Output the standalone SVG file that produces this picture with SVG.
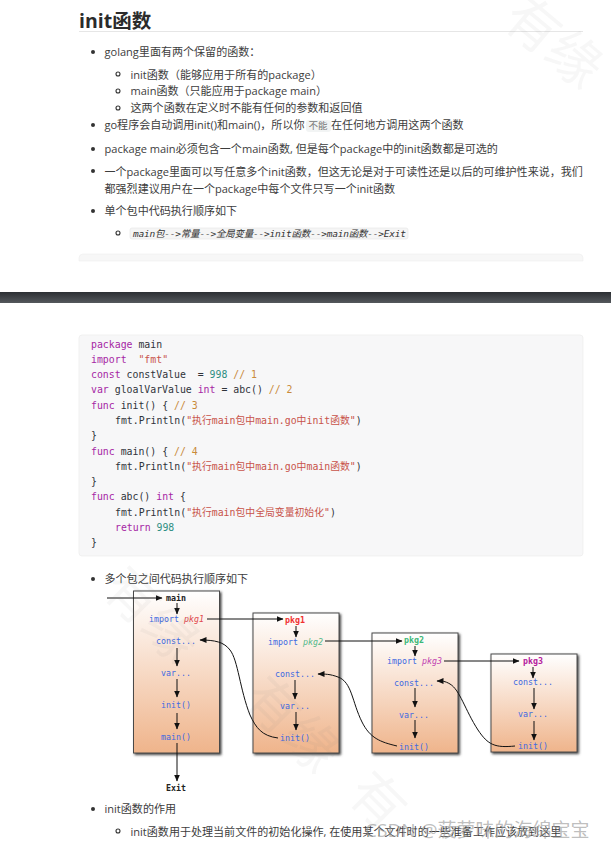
<svg xmlns="http://www.w3.org/2000/svg" width="611" height="849" viewBox="0 0 611 849">
<style>
text{font-family:"Open Sans","Noto Sans CJK SC",sans-serif;font-size:11.05px;fill:#3d3d3d}
.h{font-size:19.5px;font-weight:700;fill:#2b2b2b}
.c text{font-family:"DejaVu Sans Mono","Noto Sans CJK SC",monospace;font-size:9.85px;fill:#2f333a;white-space:pre}
.c .k{fill:#a626a4}.c .s{fill:#c8534a}.c .n{fill:#2f8f83}.c .o{fill:#c98a3a}
text.d{font-family:"DejaVu Sans Mono","Noto Sans CJK SC",monospace;font-size:8.3px;fill:#4169e1}
text.dk{font-family:"DejaVu Sans Mono",monospace;font-size:8.3px;font-weight:700;fill:#222}
.box{fill:url(#g);stroke:#4a4a4a;stroke-width:1;filter:url(#sh)}
.a{fill:none;stroke:#111;stroke-width:1;marker-end:url(#ar)}
.dot{fill:#333}.ring{fill:none;stroke:#333;stroke-width:1.1}
text.wm{font-family:"Noto Sans CJK SC",sans-serif;fill:#777;fill-opacity:.06;font-size:54px}
</style>
<defs>
<linearGradient id="g" x1="0" y1="0" x2="0" y2="1"><stop offset="0" stop-color="#fff"/><stop offset="1" stop-color="#efb48b"/></linearGradient>
<linearGradient id="bar" x1="0" y1="0" x2="0" y2="1"><stop offset="0" stop-color="#2c2f33"/><stop offset="1" stop-color="#54585c"/></linearGradient>
<filter id="sh" x="-10%" y="-10%" width="125%" height="125%"><feDropShadow dx="1.5" dy="1.5" stdDeviation="0.8" flood-color="#444"/></filter>
<marker id="ar" markerWidth="8" markerHeight="6" refX="6.5" refY="3" orient="auto" markerUnits="userSpaceOnUse"><path d="M0 0L7 3L0 6z" fill="#111"/></marker>
</defs>
<rect width="611" height="849" fill="#fff"/>
<g id="top-section">
<text class="h" x="79" y="28">init函数</text>
<rect x="79" y="31" width="504" height="1" fill="#e6e6e6"/>
<circle class="dot" cx="93" cy="52" r="2"/>
<text x="104.500" y="56">golang里面有两个保留的函数：</text>
<circle class="ring" cx="118" cy="74" r="2"/>
<text x="130.500" y="79">init函数（能够应用于所有的package）</text>
<circle class="ring" cx="118" cy="91" r="2"/>
<text x="130.500" y="95">main函数（只能应用于package main）</text>
<circle class="ring" cx="118" cy="108" r="2"/>
<text x="130.500" y="112">这两个函数在定义时不能有任何的参数和返回值</text>
<circle class="dot" cx="93" cy="125" r="2"/>
<text x="104.500" y="129" textLength="200" lengthAdjust="spacing">go程序会自动调用init()和main()，所以你</text>
<rect x="306" y="120" width="25" height="12" rx="3" fill="#f2f4f4"/>
<text x="308.500" y="129" style="font-size:9.5px;fill:#777">不能</text>
<text x="331" y="129">在任何地方调用这两个函数</text>
<circle class="dot" cx="93" cy="149" r="2"/>
<text x="104.500" y="153">package main必须包含一个main函数, 但是每个package中的init函数都是可选的</text>
<circle class="dot" cx="93" cy="171" r="2"/>
<text x="104.500" y="176">一个package里面可以写任意多个init函数，但这无论是对于可读性还是以后的可维护性来说，我们</text>
<text x="104.500" y="193">都强烈建议用户在一个package中每个文件只写一个init函数</text>
<circle class="dot" cx="93" cy="211" r="2"/>
<text x="104.500" y="215">单个包中代码执行顺序如下</text>
<circle class="ring" cx="118" cy="233" r="2"/>
<rect x="130" y="228" width="278" height="11" rx="2" fill="#f5f5f5" stroke="#e8e8e8" stroke-width=".7"/>
<text x="133" y="237" textLength="273" lengthAdjust="spacing" style="font-family:'DejaVu Sans Mono','Noto Sans CJK SC',monospace;font-size:9.5px;font-style:italic;fill:#333">main包-->常量-->全局变量-->init函数-->main函数-->Exit</text>
<path d="M79 261v-3a4 4 0 0 1 4-4h496a4 4 0 0 1 4 4v3z" fill="#f7f7f7" stroke="#efefef" stroke-width=".6"/>
</g>
<rect id="divider" x="0" y="292" width="611" height="11" fill="url(#bar)"/>
<g id="code" class="c">
<rect x="79" y="335" width="504" height="221" rx="3" fill="#f7f7f8" stroke="#ececec" stroke-width=".7"/>
<text x="91" y="348"><tspan class="k">package</tspan> main</text>
<text x="91" y="363"><tspan class="k">import</tspan>  <tspan class="s">"fmt"</tspan></text>
<text x="91" y="378"><tspan class="k">const</tspan> constValue  = <tspan class="n">998</tspan> <tspan class="o">// 1</tspan></text>
<text x="91" y="393"><tspan class="k">var</tspan> gloalVarValue <tspan class="k">int</tspan> = abc() <tspan class="o">// 2</tspan></text>
<text x="91" y="409"><tspan class="k">func</tspan> init() { <tspan class="o">// 3</tspan></text>
<text x="115" y="424">fmt.Println(<tspan class="s">"执行main包中main.go中init函数"</tspan>)</text>
<text x="91" y="439">}</text>
<text x="91" y="455"><tspan class="k">func</tspan> main() { <tspan class="o">// 4</tspan></text>
<text x="115" y="470">fmt.Println(<tspan class="s">"执行main包中main.go中main函数"</tspan>)</text>
<text x="91" y="485">}</text>
<text x="91" y="500"><tspan class="k">func</tspan> abc() <tspan class="k">int</tspan> {</text>
<text x="115" y="516">fmt.Println(<tspan class="s">"执行main包中全局变量初始化"</tspan>)</text>
<text x="115" y="531"><tspan class="k">return</tspan> <tspan class="n">998</tspan></text>
<text x="91" y="546">}</text>
</g>
<circle class="dot" cx="93" cy="579" r="2"/>
<text x="104.500" y="583">多个包之间代码执行顺序如下</text>
<g id="node-main">
<rect class="box" x="133.500" y="591" width="86" height="162"/>
<text class="dk" x="176" y="601" text-anchor="middle">main</text>
<text class="d" x="149" y="622">import <tspan fill="#e0484d" font-style="italic">pkg1</tspan></text>
<text class="d" x="156" y="644">const...</text>
<text class="d" x="161" y="676">var...</text>
<text class="d" x="161" y="708">init()</text>
<text class="d" x="161" y="740">main()</text>
</g>
<g id="node-pkg1">
<rect class="box" x="253" y="613" width="86" height="140"/>
<text x="295" y="623" text-anchor="middle" class="dk" style="fill:#f03030">pkg1</text>
<text class="d" x="268" y="645">import <tspan fill="#55b98a" font-style="italic">pkg2</tspan></text>
<text class="d" x="275" y="677">const...</text>
<text class="d" x="280" y="709">var...</text>
<text class="d" x="280" y="741">init()</text>
</g>
<g id="node-pkg2">
<rect class="box" x="372" y="633" width="86" height="120"/>
<text x="414" y="643" text-anchor="middle" class="dk" style="fill:#3cb878">pkg2</text>
<text class="d" x="387" y="664">import <tspan fill="#c040b0" font-style="italic">pkg3</tspan></text>
<text class="d" x="394" y="686">const...</text>
<text class="d" x="399" y="718">var...</text>
<text class="d" x="399" y="750">init()</text>
</g>
<g id="node-pkg3">
<rect class="box" x="491" y="654" width="86" height="98"/>
<text x="533" y="664" text-anchor="middle" class="dk" style="fill:#b5199c">pkg3</text>
<text class="d" x="513" y="685">const...</text>
<text class="d" x="518" y="717">var...</text>
<text class="d" x="518" y="749">init()</text>
</g>
<text id="node-exit" class="dk" x="176" y="791" text-anchor="middle">Exit</text>
<g id="connectors">
<path class="a" d="M107 598H162"/>
<path class="a" d="M177 603V614"/>
<path class="a" d="M207 619H283"/>
<path class="a" d="M177 648V666"/>
<path class="a" d="M177 679V697"/>
<path class="a" d="M177 713V729"/>
<path class="a" d="M177 743V781"/>
<path class="a" d="M296 626V637"/>
<path class="a" d="M325 641H402"/>
<path class="a" d="M295 680V699"/>
<path class="a" d="M296 712V730"/>
<path class="a" d="M415 646V656"/>
<path class="a" d="M444 661H519"/>
<path class="a" d="M415 688V707"/>
<path class="a" d="M415 720V738"/>
<path class="a" d="M533 667V678"/>
<path class="a" d="M534 688V709"/>
<path class="a" d="M534 721V740"/>
<path class="a" d="M278 738C262 736 256 728 250 715C240 690 238 660 230 650C224 642 215 640 200 640"/>
<path class="a" d="M397 746C380 742 370 738 362 722C352 702 352 682 338 677C330 674 325 674 318 674"/>
<path class="a" d="M515 746C495 748 488 745 478 730C465 710 460 690 450 684C445 681 442 681 437 681"/>
</g>
<circle class="dot" cx="93" cy="809" r="2"/>
<text x="104.500" y="813">init函数的作用</text>
<circle class="ring" cx="118" cy="831" r="2"/>
<text x="130.500" y="836">init函数用于处理当前文件的初始化操作, 在使用某个文件时的一些准备工作应该放到这里</text>
<text id="csdn" x="365" y="837" style="font-size:19px;fill:#999;fill-opacity:.65">CSDN @菠萝味的海绵宝宝</text>
<g id="watermark">
<text class="wm" transform="translate(500 22) rotate(40)">有缘</text>
<text class="wm" transform="translate(100 590) rotate(45)">有缘</text>
<text class="wm" transform="translate(240 700) rotate(45)">有缘</text>
<text class="wm" transform="translate(345 795) rotate(45)">有</text>
</g>
</svg>
